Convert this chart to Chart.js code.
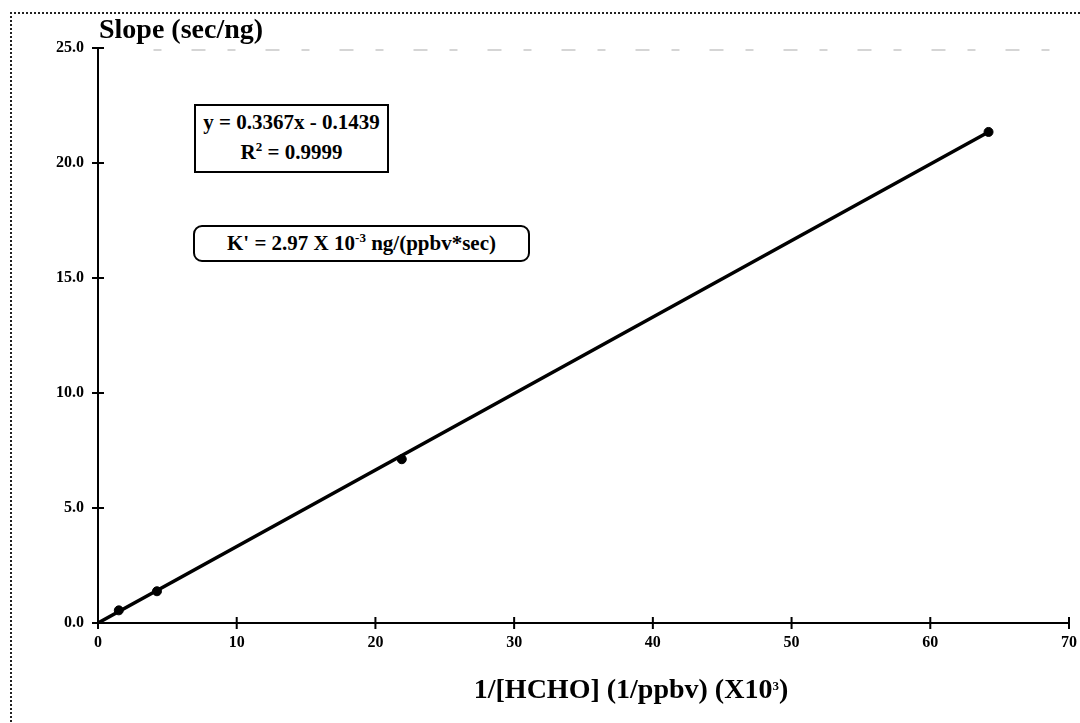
<!DOCTYPE html>
<html>
<head>
<meta charset="utf-8">
<script src="https://cdn.jsdelivr.net/npm/chart.js@4"></script>
<style>
  html, body { margin: 0; padding: 0; background: #fff; }
  #wrap { position: relative; width: 1080px; height: 723px; overflow: hidden; font-family: 'Liberation Serif', 'Times New Roman', serif; font-weight: bold; color: #000; }
  #frame { position: absolute; left: 10px; top: 12px; width: 1200px; height: 800px; border-top: 2px dotted #222; border-left: 2px dotted #222; }
  canvas { position: absolute; left: 0; top: 0; }
  .lbl { position: absolute; white-space: nowrap; line-height: 1; }
  #yTitle { left: 99px; top: 15px; font-size: 28px; }
  #xTitle { left: 631px; top: 675px; font-size: 28px; transform: translateX(-50%); }
  .box { position: absolute; border: 2px solid #000; text-align: center; font-size: 21px; background: #fff; box-sizing: border-box; }
  #eqBox { left: 194px; top: 104px; width: 195px; height: 69px; line-height: 30px; padding-top: 1px; }
  #kBox { left: 193px; top: 225px; width: 337px; height: 37px; border-radius: 9px; line-height: 33px; }
  sup { font-size: 13px; vertical-align: 8px; line-height: 0; }
</style>
</head>
<body>
<div id="wrap">
  <div id="frame"></div>
  <canvas id="slopeChart" width="1080" height="723"></canvas>
  <div class="lbl" id="yTitle">Slope (sec/ng)</div>
  <div class="lbl" id="xTitle">1/[HCHO] (1/ppbv) (X10<sup>3</sup>)</div>
  <div class="box" id="eqBox">y = 0.3367x - 0.1439<br>R<sup>2</sup> = 0.9999</div>
  <div class="box" id="kBox">K' = 2.97 X 10<sup>-3</sup> ng/(ppbv*sec)</div>
</div>
<script>
// datos
const invHcho = [1.5, 4.25, 21.9, 64.2];
const slopeVals = [0.55, 1.38, 7.12, 21.35];
// línea de tendencia (extremos)
const trendX = [0, 64.2];
const trendY = [0, 21.35];
const xTicks = [0, 10, 20, 30, 40, 50, 60, 70];
const yTicks = [0, 5, 10, 15, 20, 25];

const toPoints = (xs, ys) => xs.map((x, i) => ({ x: x, y: ys[i] }));

// marcas de escala que cruzan el eje y borde superior tenue
const crossTicks = {
    id: 'crossTicks',
    afterDraw(chart) {
        const ctx = chart.ctx;
        const xs = chart.scales.x, ys = chart.scales.y;
        const x0 = xs.getPixelForValue(0), y0 = ys.getPixelForValue(0);
        const yTop = ys.getPixelForValue(25);
        ctx.save();
        ctx.strokeStyle = 'rgba(0,0,0,0.22)';
        ctx.lineWidth = 1.5;
        ctx.setLineDash([8, 30, 14, 22]);
        ctx.beginPath();
        ctx.moveTo(xs.getPixelForValue(4), yTop + 2);
        ctx.lineTo(xs.getPixelForValue(70), yTop + 2);
        ctx.stroke();
        ctx.setLineDash([]);
        ctx.strokeStyle = '#000';
        ctx.lineWidth = 2;
        ctx.beginPath();
        xTicks.forEach(v => {
            const px = xs.getPixelForValue(v);
            ctx.moveTo(px, y0 - 6);
            ctx.lineTo(px, y0 + 6);
        });
        yTicks.forEach(v => {
            const py = ys.getPixelForValue(v);
            ctx.moveTo(x0 - 6, py);
            ctx.lineTo(x0 + 6, py);
        });
        ctx.stroke();
        ctx.restore();
    }
};

new Chart(document.getElementById('slopeChart'), {
    type: 'scatter',
    data: {
        datasets: [{
            label: 'Slope',
            data: toPoints(invHcho, slopeVals),
            backgroundColor: '#000',
            borderColor: '#000',
            pointRadius: 4.5,
            showLine: false
        }, {
            label: 'Trend',
            data: toPoints(trendX, trendY),
            borderColor: '#000',
            borderWidth: 3.5,
            pointRadius: 0,
            showLine: true
        }]
    },
    options: {
        responsive: false,
        animation: false,
        layout: { padding: { left: 0, top: 48, right: 11, bottom: 0 } },
        plugins: {
            legend: { display: false },
            tooltip: { enabled: false }
        },
        scales: {
            x: {
                type: 'linear',
                min: 0, max: 70,
                afterFit: s => { s.height = 100; },
                afterBuildTicks: s => { s.ticks = xTicks.map(v => ({ value: v })); },
                grid: { display: false },
                border: { color: '#000', width: 2 },
                ticks: {
                    color: '#000', padding: 2,
                    font: { family: 'Liberation Serif', weight: 'bold', size: 16 }
                }
            },
            y: {
                min: 0, max: 25,
                afterFit: s => { s.width = 98; },
                afterBuildTicks: s => { s.ticks = yTicks.map(v => ({ value: v })); },
                grid: { display: false },
                border: { color: '#000', width: 2 },
                ticks: {
                    color: '#000', padding: 6,
                    font: { family: 'Liberation Serif', weight: 'bold', size: 16 },
                    callback: v => v.toFixed(1)
                }
            }
        }
    },
    plugins: [crossTicks]
});
</script>
</body>
</html>
